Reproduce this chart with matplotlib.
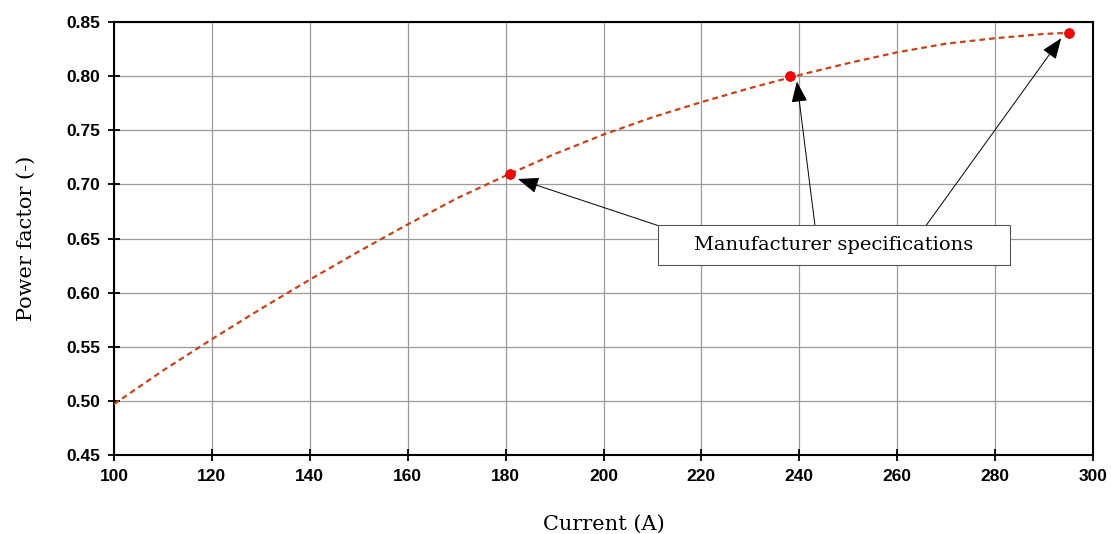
import matplotlib.pyplot as plt
from matplotlib.patches import Rectangle
import numpy as np

# curve
current = [100, 110, 120, 130, 140, 150, 160, 170, 180, 190, 200, 210, 220,
           230, 240, 250, 260, 270, 280, 290, 295]
pf = [0.497, 0.528, 0.557, 0.585, 0.612, 0.638, 0.663, 0.687, 0.708, 0.728,
      0.746, 0.762, 0.776, 0.789, 0.801, 0.812, 0.822, 0.830, 0.835, 0.839, 0.840]

# manufacturer points
spec_i = [181, 238, 295]
spec_pf = [0.71, 0.80, 0.84]

# arrow tails (on the label box)
tail_i = [211.1, 243.2, 265.9]
tail_pf = [0.662, 0.662, 0.662]

fig = plt.figure(figsize=(11.11, 5.34), dpi=100)
ax = fig.add_axes([114/1111, 1 - 455/534, (1093-114)/1111, (455-22)/534])

ax.plot(current, pf, color='#C4441A', lw=1.6, ls=(0, (2.6, 1.8)), zorder=3)
ax.plot(spec_i, spec_pf, 'o', color='#FF0000', ms=7, mec='#CC0000', mew=0.6, zorder=4)

for tx, ty, hx, hy in zip(tail_i, tail_pf, spec_i, spec_pf):
    ax.annotate('', xy=(hx + 1.5 if hx < 290 else hx - 1.5, hy - 0.005), xytext=(tx, ty),
                arrowprops=dict(arrowstyle='-|>,head_length=1.3,head_width=0.5',
                                color='black', lw=0.7, shrinkA=0, shrinkB=0), zorder=5)

ax.add_patch(Rectangle((211.1, 0.6254), 71.9, 0.037, fc='white', ec='#555555',
                       lw=0.8, zorder=6))
ax.text(247.1, 0.644, 'Manufacturer specifications', ha='center', va='center',
        fontsize=14, family='DejaVu Serif', zorder=7)

ax.set_xlim(100, 300)
ax.set_ylim(0.45, 0.85)
ax.set_xticks(np.arange(100, 301, 20))
ax.set_yticks(np.arange(0.45, 0.851, 0.05))
ax.set_yticklabels([f'{v:.2f}' for v in np.arange(0.45, 0.851, 0.05)])
ax.grid(True, color='#9a9a9a', lw=0.9)
ax.set_axisbelow(True)

for lab in ax.get_xticklabels() + ax.get_yticklabels():
    lab.set_fontweight('bold')
    lab.set_fontsize(12.5)
    lab.set_family('Liberation Sans')
ax.tick_params(direction='inout', length=8, width=1.3, pad=6)
for s in ax.spines.values():
    s.set_linewidth(1.5)

ax.set_xlabel('Current (A)', fontsize=15, family='DejaVu Serif', labelpad=22)
ax.set_ylabel('Power factor (-)', fontsize=15, family='DejaVu Serif', labelpad=22)

fig.savefig('out.png', dpi=100)
